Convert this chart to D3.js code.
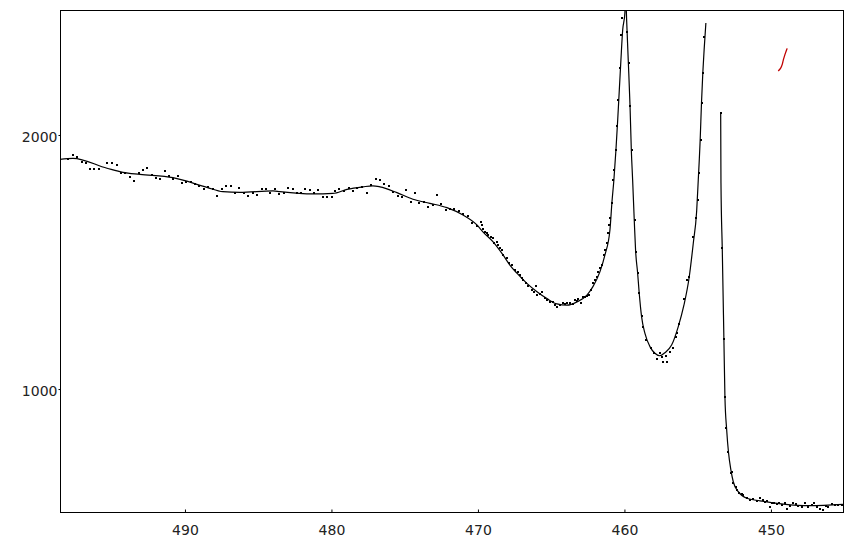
<!DOCTYPE html>
<html><head><meta charset="utf-8">
<script src="https://cdn.jsdelivr.net/npm/d3@7"></script>
<style>body{margin:0;background:#fff}svg{display:block}</style>
</head><body><svg id="c" width="853" height="540"></svg>
<script>
// ---- data (binding energy in eV, counts) ----
const xTicks = [490, 480, 470, 460, 450];
const yTicks = [1000, 2000];
const xDomain = [498.53, 445.08];
const yDomain = [516, 2492];

// fitted envelope, first part (up to the second peak)
const fitEnergyA = [498.53,497.65,495.32,494.23,493.07,490.82,488.50,487.41,486.25,483.99,483.52,481.26,479.90,478.94,477.85,477.17,476.69,475.53,474.44,473.28,472.12,471.02,470.07,469.66,468.98,468.29,467.82,467.34,466.66,465.97,465.29,464.61,463.92,463.24,462.56,462.15,461.67,461.33,460.99,460.85,460.72,460.58,460.46,460.35,460.24,460.12,459.97,459.92,459.85,459.74,459.62,459.53,459.44,459.33,459.24,459.10,458.99,458.83,458.60,458.26,457.92,457.58,457.24,456.78,456.33,455.94,455.58,455.30,455.07,454.96,454.83,454.74,454.65,454.56,454.44];
const fitCountsA = [1904,1908,1869,1853,1845,1832,1794,1777,1774,1780,1777,1768,1770,1786,1796,1800,1796,1773,1747,1731,1714,1685,1646,1619,1580,1528,1488,1456,1416,1383,1356,1335,1330,1343,1370,1403,1462,1528,1626,1737,1823,1941,2059,2177,2295,2413,2480,2560,2453,2295,2118,1941,1823,1665,1547,1457,1377,1285,1219,1167,1141,1131,1143,1173,1245,1330,1440,1574,1700,1823,1980,2126,2244,2335,2441];

// fitted envelope, second part (sharp edge to baseline)
const fitEnergyB = [453.43,453.41,453.32,453.21,453.14,453.02,452.89,452.73,452.57,452.23,451.66,450.75,449.16,447.34,445.09];
const fitCountsB = [2087,1811,1547,1196,970,839,747,681,635,596,570,560,547,541,546];

// measured points
const pointEnergy = [498.53,497.96,497.67,497.35,497.05,496.76,496.49,496.19,495.89,495.30,494.98,494.66,494.37,494.07,493.75,493.48,493.16,492.84,492.57,492.28,491.98,491.68,491.39,491.09,490.80,490.50,490.23,489.93,489.61,489.32,489.02,488.70,488.41,488.11,487.79,487.50,487.20,486.88,486.59,486.29,485.99,485.68,485.38,485.09,484.77,484.47,484.18,483.86,483.56,483.26,482.95,482.65,482.35,
482.10,481.81,481.47,481.20,480.90,480.60,480.33,479.99,479.76,479.47,479.15,478.81,478.51,478.24,477.92,477.60,477.30,476.96,476.69,476.39,476.10,475.78,475.48,475.19,474.91,474.60,474.30,474.00,473.69,473.39,473.09,472.82,472.52,472.18,471.91,471.61,471.32,471.00,470.71,470.43,470.09,
469.82,469.75,469.64,469.52,469.41,469.29,469.13,469.00,468.89,468.73,468.61,468.50,468.38,468.27,468.04,467.86,467.70,467.47,467.29,467.13,467.02,466.91,466.72,466.56,466.34,466.18,466.04,465.95,465.77,465.65,465.43,465.31,465.09,464.90,464.74,464.59,464.40,464.22,464.06,463.90,463.72,463.54,463.38,463.26,463.15,462.99,462.86,462.70,462.58,462.40,462.31,462.13,462.01,461.90,461.79,461.67,461.56,461.40,461.33,461.22,461.10,461.04,460.99,460.88,
460.76,460.72,460.60,460.54,460.42,460.31,460.24,460.15,459.85,459.72,459.63,459.51,459.28,459.24,459.10,459.01,458.83,458.71,458.53,458.21,457.99,457.81,457.58,457.46,457.35,457.17,457.08,456.89,456.71,456.48,456.39,456.26,455.94,455.76,455.57,455.30,455.12,455.00,454.91,454.80,454.71,454.66,454.55,
453.43,453.35,453.21,453.14,453.07,452.96,452.75,452.64,452.57,452.39,452.30,452.16,452.00,451.89,451.66,451.43,451.21,450.98,450.75,450.57,450.41,450.25,450.07,449.95,449.80,449.61,449.43,449.27,449.04,448.91,448.70,448.47,448.29,448.13,447.91,447.68,447.45,447.22,447.04,446.84,446.66,446.43,446.25,446.09,445.86,445.63,445.40,445.18];
const pointCounts = [1904,1904,1921,1915,1895,1888,1867,1867,1867,1891,1891,1883,1852,1849,1836,1820,1852,1862,1870,1844,1831,1828,1860,1839,1825,1840,1810,1815,1815,1807,1799,1789,1794,1786,1760,1786,1799,1799,1773,1791,1770,1760,1773,1765,1786,1786,1773,1789,1768,1773,1790,1786,1773,
1770,1787,1783,1770,1783,1755,1757,1757,1781,1786,1781,1793,1781,1793,1797,1770,1803,1827,1823,1807,1801,1777,1760,1757,1783,1738,1773,1734,1738,1718,1723,1765,1728,1705,1710,1707,1702,1689,1681,1652,1642,
1659,1646,1629,1619,1613,1606,1600,1593,1573,1580,1567,1554,1547,1528,1514,1497,1488,1468,1462,1449,1436,1429,1416,1406,1390,1383,1406,1370,1374,1383,1357,1350,1344,1344,1331,1324,1331,1337,1335,1340,1337,1335,1350,1348,1353,1337,1361,1364,1366,1370,1390,1416,1429,1442,1462,1475,1488,1528,1547,1573,1613,1646,1672,1734,
1823,1862,1941,2035,2138,2262,2394,2459,2407,2282,2114,1941,1665,1541,1455,1377,1287,1245,1193,1160,1140,1117,1143,1127,1108,1130,1108,1147,1160,1206,1222,1256,1353,1429,1442,1600,1672,1744,1849,1980,2125,2243,2387,
2087,1554,1196,970,845,753,668,675,629,616,602,592,587,581,570,563,566,560,570,563,555,560,537,550,553,547,550,545,550,526,541,550,547,539,537,553,534,545,550,537,526,524,539,537,547,542,545,545];

// small red hand-drawn mark
const markEnergy = [449.50,449.32,449.23,449.16,449.09,449.00,448.89];
const markCounts = [2252,2263,2276,2295,2308,2324,2341];

// ---- drawing ----
const svg = d3.select('#c');
const L = 60, T = 10, R = 843, B = 512;
const x = d3.scaleLinear().domain(xDomain).range([L, R]);
const y = d3.scaleLinear().domain(yDomain).range([B, T]);

svg.append('defs').append('clipPath').attr('id', 'clip')
  .append('rect').attr('x', L).attr('y', T).attr('width', R - L).attr('height', B - T);

const plot = svg.append('g').attr('clip-path', 'url(#clip)');

const line = d3.line().x(d => x(d[0])).y(d => y(d[1])).curve(d3.curveMonotoneX);
const segA = fitEnergyA.map((e, i) => [e, fitCountsA[i]]);
const segB = fitEnergyB.map((e, i) => [e, fitCountsB[i]]);
[segA, segB].forEach(seg => {
  plot.append('path').datum(seg).attr('d', line)
    .attr('fill', 'none').attr('stroke', '#000').attr('stroke-width', 1.2);
});

plot.selectAll('rect.pt').data(pointEnergy.map((e, i) => [e, pointCounts[i]]))
  .join('rect').attr('class', 'pt')
  .attr('x', d => Math.round(x(d[0])) - 1).attr('y', d => Math.round(y(d[1])) - 1)
  .attr('width', 2).attr('height', 2).attr('fill', '#000');

plot.append('path').datum(markEnergy.map((e, i) => [e, markCounts[i]]))
  .attr('d', d3.line().x(d => x(d[0])).y(d => y(d[1])).curve(d3.curveBasis))
  .attr('fill', 'none').attr('stroke', '#c00000').attr('stroke-width', 1.3);

// frame
svg.append('rect').attr('x', L + 0.5).attr('y', T + 0.5)
  .attr('width', R - L).attr('height', B - T)
  .attr('fill', 'none').attr('stroke', '#000').attr('stroke-width', 1);

const font = '"DejaVu Sans", sans-serif';
const xAxis = svg.append('g').attr('transform', `translate(0,${B + 0.5})`)
  .call(d3.axisBottom(x).tickValues(xTicks).tickSize(-3).tickPadding(13).tickFormat(d3.format('d')));
xAxis.select('.domain').remove();
xAxis.selectAll('line').attr('stroke', '#000');
xAxis.selectAll('text').attr('font-family', font).attr('font-size', 14).attr('fill', '#222');

const yAxis = svg.append('g').attr('transform', `translate(${L + 0.5},0)`)
  .call(d3.axisLeft(y).tickValues(yTicks).tickSize(2).tickPadding(1).tickFormat(d3.format('d')));
yAxis.select('.domain').remove();
yAxis.selectAll('line').attr('stroke', '#000');
yAxis.selectAll('text').attr('font-family', font).attr('font-size', 14).attr('fill', '#222').attr('dy', '0.45em');
</script></body></html>
